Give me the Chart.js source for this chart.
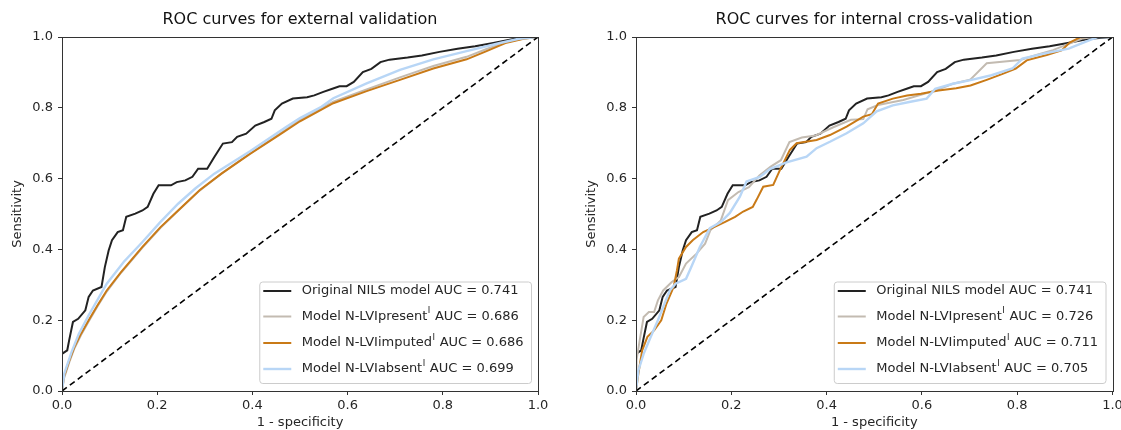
<!DOCTYPE html>
<html>
<head>
<meta charset="utf-8">
<script src="https://cdn.jsdelivr.net/npm/chart.js@4.4.0/dist/chart.umd.min.js"></script>
<style>
  html, body { margin: 0; padding: 0; background: #fff; overflow: hidden; width: 1121px; height: 430px; }
  .wrap { position: absolute; top: 0; height: 430px; }
  #wrapExt { left: 0; width: 560px; }
  #wrapInt { left: 570px; width: 580px; }
</style>
</head>
<body>
<div class="wrap" id="wrapExt"><canvas id="chartExt" width="560" height="430"></canvas></div>
<div class="wrap" id="wrapInt"><canvas id="chartInt" width="580" height="430"></canvas></div>
<script>
// --- Legend text ---
const seriesNames = ['Original NILS model', 'Model N-LVIpresent', 'Model N-LVIimputed', 'Model N-LVIabsent'];
const supMarks = ['', 'I', 'I', 'I'];
const extAuc = ['0.741', '0.686', '0.686', '0.699'];
const intAuc = ['0.741', '0.726', '0.711', '0.705'];
const seriesColors = ['#222222', '#c3bbb1', '#c97a17', '#b8d6f6'];

const axisTicks = [0, 0.2, 0.4, 0.6, 0.8, 1.0];
const chanceLine = [[0, 0], [1, 1]];

// --- ROC points [1 - specificity, sensitivity] ---
// original NILS model (same in both panels)
const nilsRoc = [[0,0],[0,0.105],[0.011,0.115],[0.015,0.143],[0.023,0.195],[0.034,0.204],[0.049,0.228],[0.056,0.266],
  [0.065,0.284],[0.083,0.294],[0.090,0.350],[0.098,0.397],[0.105,0.426],[0.117,0.449],[0.128,0.454],[0.135,0.492],
  [0.154,0.501],[0.169,0.510],[0.180,0.520],[0.192,0.557],[0.203,0.581],[0.229,0.581],[0.241,0.590],[0.259,0.595],
  [0.274,0.605],[0.286,0.628],[0.305,0.628],[0.320,0.661],[0.338,0.699],[0.357,0.703],[0.368,0.718],[0.387,0.727],
  [0.406,0.750],[0.425,0.760],[0.440,0.769],[0.447,0.793],[0.462,0.812],[0.485,0.826],[0.515,0.830],[0.530,0.835],
  [0.549,0.845],[0.568,0.854],[0.583,0.861],[0.598,0.861],[0.613,0.873],[0.632,0.901],[0.650,0.910],[0.669,0.929],
  [0.688,0.936],[0.726,0.942],[0.756,0.948],[0.793,0.958],[0.831,0.967],[0.868,0.974],[0.906,0.983],[0.951,0.995],[1,1]];

// external validation
const extPresent = [[0,0],[0.004,0.035],[0.015,0.080],[0.026,0.120],[0.040,0.158],[0.056,0.196],[0.075,0.240],[0.094,0.281],
  [0.124,0.334],[0.169,0.405],[0.207,0.461],[0.244,0.509],[0.289,0.566],[0.335,0.614],[0.395,0.671],[0.455,0.724],
  [0.500,0.765],[0.570,0.817],[0.640,0.852],[0.710,0.886],[0.780,0.918],[0.850,0.944],[0.892,0.966],[0.934,0.986],[0.970,0.996],[1,1]];
const extImputed = [[0,0],[0.004,0.040],[0.015,0.085],[0.026,0.124],[0.040,0.162],[0.056,0.200],[0.075,0.243],[0.094,0.284],
  [0.124,0.336],[0.169,0.407],[0.207,0.463],[0.244,0.510],[0.289,0.567],[0.335,0.614],[0.395,0.670],[0.455,0.722],
  [0.500,0.762],[0.570,0.813],[0.640,0.847],[0.710,0.879],[0.780,0.911],[0.850,0.937],[0.892,0.960],[0.934,0.984],[0.970,0.995],[1,1]];
const extAbsent = [[0,0],[0.005,0.050],[0.020,0.110],[0.035,0.160],[0.056,0.214],[0.094,0.303],[0.130,0.365],[0.169,0.421],
  [0.205,0.475],[0.244,0.529],[0.280,0.572],[0.320,0.614],[0.395,0.677],[0.470,0.745],[0.500,0.771],[0.545,0.803],
  [0.570,0.827],[0.640,0.869],[0.710,0.907],[0.780,0.937],[0.850,0.960],[0.920,0.983],[0.960,0.995],[1,1]];

// internal cross-validation
const intPresent = [[0,0],[0.001,0.087],[0.009,0.153],[0.016,0.209],[0.027,0.223],[0.038,0.223],[0.046,0.256],[0.057,0.284],
  [0.075,0.308],[0.090,0.322],[0.105,0.360],[0.127,0.388],[0.145,0.416],[0.156,0.454],[0.178,0.482],[0.193,0.539],
  [0.215,0.562],[0.237,0.576],[0.259,0.609],[0.282,0.633],[0.304,0.652],[0.322,0.703],[0.348,0.716],[0.377,0.722],
  [0.414,0.745],[0.451,0.766],[0.477,0.768],[0.486,0.796],[0.508,0.808],[0.561,0.822],[0.631,0.850],[0.665,0.868],
  [0.701,0.879],[0.736,0.926],[0.806,0.935],[0.842,0.950],[0.875,0.963],[0.911,0.982],[0.938,0.996],[0.960,1],[1,1]];
const intImputed = [[0,0],[0.005,0.049],[0.013,0.115],[0.024,0.153],[0.038,0.171],[0.053,0.200],[0.064,0.247],[0.079,0.294],
  [0.086,0.341],[0.090,0.374],[0.105,0.407],[0.119,0.426],[0.141,0.449],[0.164,0.463],[0.186,0.477],[0.208,0.492],
  [0.225,0.507],[0.245,0.520],[0.253,0.540],[0.267,0.577],[0.288,0.582],[0.302,0.624],[0.323,0.681],[0.337,0.700],
  [0.379,0.709],[0.407,0.723],[0.442,0.747],[0.477,0.775],[0.495,0.782],[0.508,0.812],[0.539,0.826],[0.569,0.835],
  [0.598,0.840],[0.635,0.849],[0.672,0.855],[0.702,0.863],[0.736,0.879],[0.768,0.895],[0.797,0.911],[0.820,0.934],
  [0.862,0.949],[0.893,0.962],[0.911,0.985],[0.932,0.999],[0.945,1],[1,1]];
const intAbsent = [[0,0],[0.005,0.058],[0.016,0.105],[0.031,0.153],[0.046,0.200],[0.060,0.247],[0.071,0.284],[0.083,0.303],
  [0.105,0.317],[0.116,0.350],[0.134,0.407],[0.155,0.460],[0.178,0.477],[0.197,0.503],[0.218,0.549],[0.232,0.592],
  [0.260,0.605],[0.281,0.627],[0.316,0.646],[0.358,0.662],[0.379,0.686],[0.407,0.704],[0.442,0.728],[0.477,0.756],
  [0.505,0.790],[0.539,0.807],[0.576,0.817],[0.610,0.826],[0.628,0.854],[0.665,0.868],[0.702,0.878],[0.746,0.892],
  [0.790,0.911],[0.811,0.939],[0.856,0.953],[0.908,0.967],[0.952,0.991],[0.970,1],[1,1]];

Chart.defaults.font.family = '"DejaVu Sans", sans-serif';
Chart.defaults.color = '#262626';

const toXY = pts => pts.map(p => ({ x: p[0], y: p[1] }));

// --- draws all four spines on top of the curves ---
const framePlugin = {
    id: 'frame',
    afterDatasetsDraw(chart) {
        const a = chart.chartArea;
        const ctx = chart.ctx;
        ctx.save();
        ctx.strokeStyle = '#333';
        ctx.lineWidth = 1;
        ctx.strokeRect(Math.round(a.left) + 0.5, Math.round(a.top) + 0.5,
            Math.round(a.right - a.left), Math.round(a.bottom - a.top));
        ctx.restore();
    }
};

// --- legend box inside lower right of the axes ---
const insideLegend = {
    id: 'insideLegend',
    afterDraw(chart) {
        const ctx = chart.ctx;
        const a = chart.chartArea;
        const items = chart.data.datasets.filter(d => d.legendMain);
        const mainFont = '13px "DejaVu Sans"';
        const supFont = '8.5px "DejaVu Sans"';

        ctx.save();
        const widths = items.map(d => {
            ctx.font = mainFont;
            let w = ctx.measureText(d.legendMain).width + ctx.measureText(d.legendRest).width;
            ctx.font = supFont;
            if (d.legendSup) w += ctx.measureText(d.legendSup).width + 1;
            return w;
        });
        const textW = Math.max(...widths);
        const right = a.right - 6.5;
        const bottom = a.bottom - 7.5;
        const left = right - (42 + textW + 8);
        const top = bottom - 101.5;
        const rowOffsets = [92.5, 67, 40.5, 14.5];

        ctx.fillStyle = 'rgba(255,255,255,0.8)';
        ctx.strokeStyle = '#cccccc';
        ctx.lineWidth = 1;
        ctx.beginPath();
        ctx.roundRect(left, top, right - left, bottom - top, 3);
        ctx.fill();
        ctx.stroke();

        items.forEach((d, i) => {
            const y = bottom - rowOffsets[i];
            ctx.strokeStyle = d.borderColor;
            ctx.lineWidth = d.borderWidth;
            ctx.beginPath();
            ctx.moveTo(left + 3.5, y);
            ctx.lineTo(left + 31.5, y);
            ctx.stroke();

            let x = left + 42;
            ctx.fillStyle = '#262626';
            ctx.textBaseline = 'middle';
            ctx.font = mainFont;
            ctx.fillText(d.legendMain, x, y);
            x += ctx.measureText(d.legendMain).width;
            if (d.legendSup) {
                ctx.font = supFont;
                ctx.fillText(d.legendSup, x + 0.5, y - 5.5);
                x += ctx.measureText(d.legendSup).width + 1;
            }
            ctx.font = mainFont;
            ctx.fillText(d.legendRest, x, y);
        });
        ctx.restore();
    }
};

function rocChart(canvasId, titleText, curves, aucs, yAxisWidth, padRight, yTitlePad) {
    const widths = [2, 2, 2, 2.4];
    const datasets = curves.map((pts, i) => ({
        data: toXY(pts),
        borderColor: seriesColors[i],
        borderWidth: widths[i],
        legendMain: seriesNames[i],
        legendSup: supMarks[i],
        legendRest: ' AUC = ' + aucs[i],
        order: 4 - i
    }));
    datasets.push({
        data: toXY(chanceLine),
        borderColor: '#000',
        borderWidth: 1.6,
        borderDash: [6, 3.8],
        order: 0
    });

    return new Chart(document.getElementById(canvasId), {
        type: 'scatter',
        data: { datasets: datasets },
        options: {
            responsive: false,
            animation: false,
            showLine: true,
            elements: { point: { radius: 0 }, line: { tension: 0 } },
            layout: { padding: { left: 0, right: padRight, top: 0, bottom: 0 } },
            plugins: {
                legend: { display: false },
                tooltip: { enabled: false },
                title: {
                    display: true,
                    text: titleText,
                    fullSize: false,
                    color: '#111',
                    font: { size: 16, weight: 'normal' },
                    padding: { top: 10.4, bottom: 7.4 }
                }
            },
            scales: {
                x: {
                    type: 'linear',
                    min: 0,
                    max: 1,
                    afterBuildTicks: s => { s.ticks = axisTicks.map(v => ({ value: v })); },
                    afterFit: s => { s.height = 39; },
                    ticks: { callback: v => v.toFixed(1), font: { size: 13 }, padding: 3, maxRotation: 0 },
                    grid: { drawOnChartArea: false, drawTicks: true, tickLength: 4, color: '#333' },
                    border: { display: false },
                    title: { display: true, text: '1 - specificity', font: { size: 13 }, padding: { top: 0, bottom: 0 } }
                },
                y: {
                    type: 'linear',
                    min: 0,
                    max: 1,
                    afterBuildTicks: s => { s.ticks = axisTicks.map(v => ({ value: v })); },
                    afterFit: s => { s.width = yAxisWidth; },
                    ticks: { callback: v => v.toFixed(1), font: { size: 13 }, padding: 5 },
                    grid: { drawOnChartArea: false, drawTicks: true, tickLength: 4, color: '#333' },
                    border: { display: false },
                    title: { display: true, text: 'Sensitivity', font: { size: 13 }, padding: { top: yTitlePad, bottom: 0 } }
                }
            }
        },
        plugins: [framePlugin, insideLegend]
    });
}

rocChart('chartExt', 'ROC curves for external validation',
    [nilsRoc, extPresent, extImputed, extAbsent], extAuc, 62, 22, 10);
rocChart('chartInt', 'ROC curves for internal cross-validation',
    [nilsRoc, intPresent, intImputed, intAbsent], intAuc, 66, 37.5, 14);
</script>
</body>
</html>
